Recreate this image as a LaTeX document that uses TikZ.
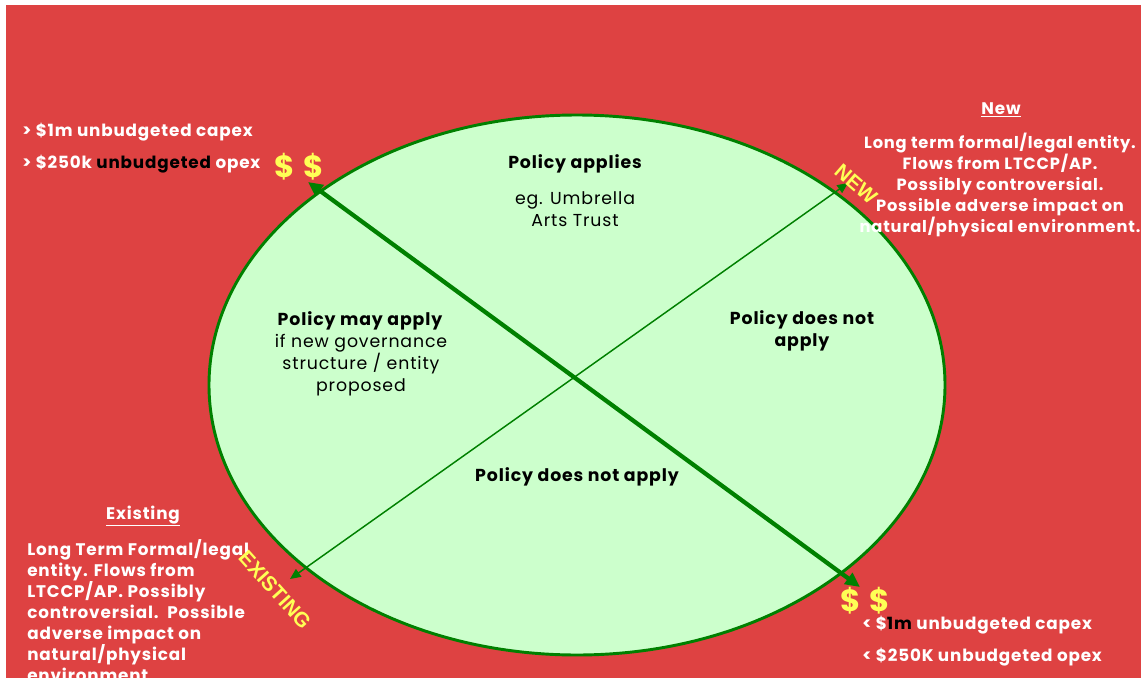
\documentclass[tikz,border=0pt]{standalone}
\usepackage{fontspec}
\setmainfont{Poppins}[LetterSpace=5]
\newfontfamily\arialfont{Liberation Sans}
\usetikzlibrary{shapes.geometric,arrows.meta}
\definecolor{bgred}{RGB}{222,66,66}
\definecolor{lgreen}{RGB}{204,255,204}
\definecolor{dgreen}{RGB}{0,128,0}
\definecolor{ylw}{RGB}{255,255,85}
\begin{document}
\begin{tikzpicture}[x=0.75pt,y=-0.75pt,
  wtxt/.style={text=white,font=\bfseries\fontsize{12.6}{15.75}\selectfont,inner sep=0pt},
  btxt/.style={text=black,font=\bfseries\fontsize{13}{16.5}\selectfont,inner sep=0pt,align=center},
  ntxt/.style={text=black,font=\fontsize{13}{16.5}\selectfont,inner sep=0pt,align=center},
  dollar/.style={text=ylw,font=\bfseries\fontsize{23}{23}\selectfont,inner sep=0pt},
  tag/.style={text=ylw,font=\arialfont\bfseries\fontsize{15.5}{15.5}\selectfont,inner sep=0pt},
  thick arrow/.style={draw=dgreen,line width=3.2pt,{Triangle[length=11pt,width=10pt]}-{Triangle[length=11pt,width=10pt]}},
  thin arrow/.style={draw=dgreen,line width=1.1pt,{Triangle[length=8pt,width=7pt]}-{Triangle[length=8pt,width=7pt]}}
]
\useasboundingbox (0,0) rectangle (1141,678);
\fill[white] (0,0) rectangle (1141,678);
\fill[bgred] (6,5) rectangle (1141,678);

\node[ellipse,draw=dgreen,line width=2.2pt,fill=lgreen,minimum width=552pt,minimum height=405pt,inner sep=0pt] (circ) at (577,385) {};

\coordinate (tl) at (308,182);
\coordinate (br) at (860,587);
\coordinate (tr) at (848,183);
\coordinate (bl) at (290,579);
\draw[thin arrow] (bl) -- (tr);
\draw[thick arrow] (tl) -- (br);

% inside texts
\node[btxt] (pa) at (575,164) {Policy applies};
\node[ntxt] (eg) at (575,209) {eg. Umbrella\\Arts Trust};
\node[btxt] (pma) at (360,321) {Policy may apply};
\node[ntxt] (ifn) at (361,365) {if new governance\\structure / entity\\proposed};
\node[btxt] (pdn) at (802,331) {Policy does not\\apply};
\node[btxt] (pdna) at (577,477) {Policy does not apply};

% top left
\node[wtxt,anchor=west] (c1) at (22,132) {> \$1m unbudgeted capex};
\node[wtxt,anchor=west] (c2) at (22,164) {> \$250k \textcolor{black}{unbudgeted} opex};
\node[dollar] (d1) at (299,167) {\$ \$};

% bottom right
\node[dollar] (d2) at (865,601) {\$ \$};
\node[wtxt,anchor=west] (c3) at (862,625) {< \$\textcolor{black}{1m} unbudgeted capex};
\node[wtxt,anchor=west] (c4) at (862,657) {< \$250K unbudgeted opex};

% top right
\node[wtxt] (newh) at (1001,110) {\underline{New}};
\node[wtxt,font=\bfseries\fontsize{12.2}{15.75}\selectfont,align=center] (newt) at (1000,185) {Long term formal/legal entity.\\Flows from LTCCP/AP.\\Possibly controversial.\\Possible adverse impact on\\natural/physical environment.};
\node[tag,rotate=-41] (newtag) at (856,184) {NEW};

% bottom left
\node[wtxt] (exh) at (143,516) {\underline{Existing}};
\node[wtxt,align=left,anchor=west] (ext) at (27,611) {Long Term Formal/legal\\entity. Flows from\\LTCCP/AP. Possibly\\controversial.\ \ Possible\\adverse impact on\\natural/physical\\environment.};
\node[tag,rotate=-48] (extag) at (275,590) {EXISTING};
\end{tikzpicture}
\end{document}
